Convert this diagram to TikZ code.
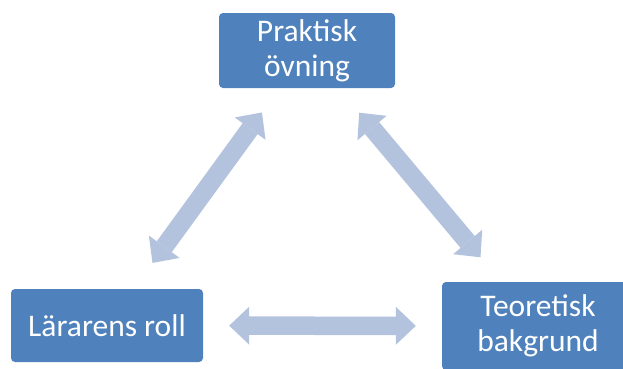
\documentclass[tikz,border=0pt]{standalone}
\usepackage{fontspec}
\setmainfont{Carlito}
\usetikzlibrary{arrows.meta}
\definecolor{boxblue}{RGB}{79,129,189}
\definecolor{linkblue}{RGB}{179,195,222}

\begin{document}
\begin{tikzpicture}[x=1pt, y=-1pt,
      every node/.style = {shape=rectangle, rounded corners=4pt,
        fill=boxblue, text=white, align=center, inner sep=0pt,
        font=\fontsize{31.5}{35}\selectfont},
      link/.style = {draw=linkblue, line width=18.5pt,
        {Triangle[width=38pt,length=20pt,line width=0pt]}-{Triangle[width=38pt,length=20pt,line width=0pt]}}]
      \useasboundingbox (0,0) rectangle (623,368);
      \node[minimum width=176pt, minimum height=75pt] (prakt) at (307,50.5) {Praktisk\\övning};
      \node[minimum width=192pt, minimum height=73pt] (larare) at (107,325.5) {Lärarens roll};
      \node[minimum width=192pt, minimum height=88pt] (teori) at (538,326) {Teoretisk\\bakgrund};
      \draw[link, shorten <=30pt, shorten >=32pt] (prakt) -- (larare);
      \draw[link, shorten <=32pt, shorten >=32pt] (prakt) -- (teori);
      \draw[link, shorten <=26pt, shorten >=26pt] (larare) -- (teori);
  \end{tikzpicture}
\end{document}
